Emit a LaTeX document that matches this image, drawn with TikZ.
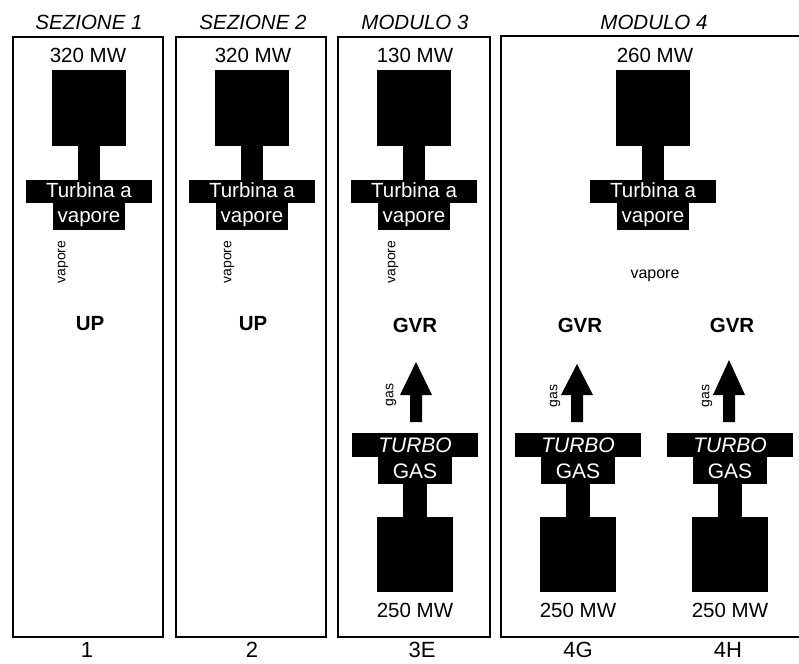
\documentclass[tikz,border=0pt]{standalone}
\usepackage{fontspec}
\setmainfont{Liberation Sans}
\newcommand\mysteamturb[2]{%
  \fill ({#1-37},70) rectangle ({#1+37},146);
  \fill ({#1-11},145) rectangle ({#1+11},181);
  \fill ({#1-63},180) rectangle ({#1+63},203);
  \fill ({#1-36},202) rectangle ({#1+36},230);
  \node[wlbl,anchor=base] (#2a) at (#1,197) {Turbina a};
  \node[wlbl,anchor=base] (#2b) at (#1,222) {vapore};
}
\newcommand\mygasturb[2]{%
  \fill ({#1-63},433) rectangle ({#1+63},457);
  \fill ({#1-37},456) rectangle ({#1+37},484);
  \fill ({#1-12},483) rectangle ({#1+12},518);
  \fill ({#1-38},517) rectangle ({#1+38},592);
  \node[wlbl,anchor=base,font=\fontsize{21}{23}\selectfont\itshape] (#2a) at (#1,452) {TURBO};
  \node[wlbl,anchor=base,font=\fontsize{21}{23}\selectfont] (#2b) at (#1,478) {GAS};
  \node[lbl,anchor=base] (#2c) at (#1,617) {250 MW};
}
\newcommand\myfatarrow[2]{%
  \fill ({#1-6},422) -- ({#1-6},395) -- ({#1-16},395) -- (#1,#2) -- ({#1+16},395) -- ({#1+6},395) -- ({#1+6},422) -- cycle;
}
\begin{document}
\begin{tikzpicture}[x=1pt,y=-1pt,
  boxline/.style={draw,line width=2.2pt},
  lbl/.style={font=\fontsize{20.5}{22}\selectfont,inner sep=0},
  wlbl/.style={lbl,text=white},
  ttl/.style={font=\fontsize{20.5}{22}\selectfont\itshape,inner sep=0},
  bld/.style={font=\fontsize{20.5}{22}\selectfont\bfseries,inner sep=0},
  sml/.style={font=\fontsize{14}{16}\selectfont,inner sep=0},
  num/.style={font=\fontsize{22}{24}\selectfont,inner sep=0}]
\useasboundingbox (0,0) rectangle (799,663);
\fill[white] (0,0) rectangle (799,663);
% boxes
\draw[boxline] (13,37) rectangle (163,637);
\draw[boxline] (176,37) rectangle (326,637);
\draw[boxline] (338,37) rectangle (490,637);
\draw[boxline] (802,36) -- (501,36) -- (501,637) -- (802,637);
% titles
\node[ttl,anchor=base] (t1) at (89,30) {SEZIONE 1};
\node[ttl,anchor=base] (t2) at (253,30) {SEZIONE 2};
\node[ttl,anchor=base] (t3) at (415,30) {MODULO 3};
\node[ttl,anchor=base] (t4) at (654,30) {MODULO 4};
% power top
\node[lbl,anchor=base] (p1) at (88,63) {320 MW};
\node[lbl,anchor=base] (p2) at (253,63) {320 MW};
\node[lbl,anchor=base] (p3) at (415,63) {130 MW};
\node[lbl,anchor=base] (p4) at (655,63) {260 MW};
% steam turbines
\mysteamturb{89}{s1}
\mysteamturb{252}{s2}
\mysteamturb{414}{s3}
\mysteamturb{653}{s4}
% vapore labels
\node[sml,rotate=90] (v1) at (63,262) {vapore};
\node[sml,rotate=90] (v2) at (229,262) {vapore};
\node[sml,rotate=90] (v3) at (393,262) {vapore};
\node[sml,anchor=base,font=\fontsize{16}{18}\selectfont] (v4) at (655,278) {vapore};
% UP / GVR
\node[bld,anchor=base] (u1) at (90,330) {UP};
\node[bld,anchor=base] (u2) at (253,330) {UP};
\node[bld,anchor=base] (g3) at (415,332) {GVR};
\node[bld,anchor=base] (g4) at (580,332) {GVR};
\node[bld,anchor=base] (g5) at (732,332) {GVR};
% arrows
\myfatarrow{416}{362}
\myfatarrow{577}{364}
\myfatarrow{729}{360}
\node[sml,rotate=90] (a3) at (391,395) {gas};
\node[sml,rotate=90] (a4) at (555,396) {gas};
\node[sml,rotate=90] (a5) at (707,396) {gas};
% gas turbines
\mygasturb{415}{m3}
\mygasturb{578}{m4}
\mygasturb{730}{m5}
% bottom labels
\node[num,anchor=base] (n1) at (87,657) {1};
\node[num,anchor=base] (n2) at (252,657) {2};
\node[num,anchor=base] (n3) at (422,657) {3E};
\node[num,anchor=base] (n4) at (578,657) {4G};
\node[num,anchor=base] (n5) at (728,657) {4H};
\end{tikzpicture}
\end{document}
